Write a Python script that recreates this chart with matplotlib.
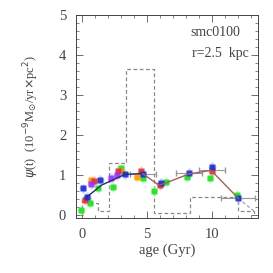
import matplotlib
matplotlib.use("Agg")
import matplotlib.pyplot as plt
from matplotlib.ticker import MultipleLocator

# Histogram (dashed)
hist_edges = [0, 0.6, 1.2, 2.1, 3.4, 5.5, 8.3, 12.0, 13.2]
hist_vals = [0.45, 0.3, 0.1, 1.3, 3.65, 0.05, 0.45, 0.1]

# Coloured points
blue_x = [0.05, 0.36, 1.4, 3.3, 4.65, 6.1, 8.2, 9.97, 12.0]
blue_y = [0.67, 0.45, 0.88, 1.02, 1.04, 0.8, 1.06, 1.2, 0.42]
red_x = [0.25, 0.9, 2.8, 4.5, 6.0, 9.97]
red_y = [0.37, 0.85, 1.1, 1.1, 0.75, 1.1]
green_x = [-0.1, 0.6, 1.2, 2.35, 3.0, 4.65, 5.5, 6.45, 8.05, 9.85, 11.9]
green_y = [0.12, 0.3, 0.67, 0.7, 1.17, 0.92, 0.6, 0.83, 0.96, 0.92, 0.5]
purple_x = [0.7, 2.2, 2.7]
purple_y = [0.78, 0.93, 1.0]
orange_x = [0.7, 3.0, 4.2]
orange_y = [0.87, 1.1, 0.95]

# Mean SFH line
line1_x = [0.36, 1.5, 3.3, 4.65]
line1_y = [0.45, 0.75, 1.02, 1.04]
line2_x = [4.65, 5.9, 6.4, 8.2, 9.9, 12.0]
line2_y = [1.04, 0.75, 0.8, 1.03, 1.12, 0.42]
tail_x = [12.0, 13.2]
tail_y = [0.42, 0.1]

# Horizontal bin bars
bar_x = [4.65, 8.2, 9.97, 12.0]
bar_y = [1.04, 1.06, 1.12, 0.42]
bar_xerr = [1.0, 1.0, 1.0, 1.3]

plt.rcParams['font.family'] = ['Liberation Serif', 'DejaVu Serif']
fig = plt.figure(figsize=(2.73, 2.73), dpi=100)
ax = fig.add_axes([0.278, 0.2, 0.667, 0.745])

ax.stairs(hist_vals, hist_edges, color='#888888', ls=(0, (3, 2)), lw=0.9)

ax.errorbar(bar_x, bar_y, xerr=bar_xerr, fmt='none', ecolor='#999999',
            elinewidth=0.8, capsize=2, zorder=2)

series = [
    (green_x, green_y, '#22dd22', '#aaffaa'),
    (orange_x, orange_y, '#ff9900', '#ffe0a0'),
    (red_x, red_y, '#e03030', '#ffb0b0'),
    (purple_x, purple_y, '#9933ff', '#ddb0ff'),
    (blue_x, blue_y, '#1a2ecc', '#b0c0ff'),
]
for xs, ys, c, ec in series:
    ax.errorbar(xs, ys, yerr=0.12, xerr=0.3, fmt='none', ecolor=ec,
                elinewidth=1.8, alpha=0.7, zorder=3)
    ax.plot(xs, ys, 's', color=c, ms=4, mec='none', alpha=0.9, zorder=4)

ax.plot(line1_x, line1_y, color='#20306a', lw=1.0, zorder=5)
ax.plot(line2_x, line2_y, color='#a06060', lw=1.0, zorder=5)
ax.plot(tail_x, tail_y, color='#999999', lw=0.8, ls=(0, (3, 2)), zorder=2)

ax.set_xlim(-0.46, 13.5)
ax.set_ylim(-0.08, 5)
ax.xaxis.set_major_locator(MultipleLocator(5))
ax.xaxis.set_minor_locator(MultipleLocator(1))
ax.yaxis.set_major_locator(MultipleLocator(1))
ax.yaxis.set_minor_locator(MultipleLocator(0.2))
ax.tick_params(which='both', direction='in', top=True, right=True,
               labelsize=10.5, colors='#555555', labelcolor='#444444')
ax.tick_params(which='major', length=5, width=0.6, pad=7)
ax.tick_params(which='minor', length=2.5, width=0.5)
for s in ax.spines.values():
    s.set_linewidth(0.7)
    s.set_color('#444444')

ax.set_xlabel('age (Gyr)', fontsize=10.5, color='#444444', labelpad=2)
ax.set_ylabel(r'$\psi$(t)  (10$^{-9}$M$_{\odot}$/yr$\times$pc$^{2}$)',
              fontsize=9, color='#444444', labelpad=13)
ax.text(0.9, 0.915, 'smc0100', transform=ax.transAxes, ha='right', va='center',
        fontsize=10, color='#444444')
ax.text(0.95, 0.81, 'r=2.5  kpc', transform=ax.transAxes, ha='right', va='center',
        fontsize=10, color='#444444')

fig.savefig('out.png', dpi=100)
